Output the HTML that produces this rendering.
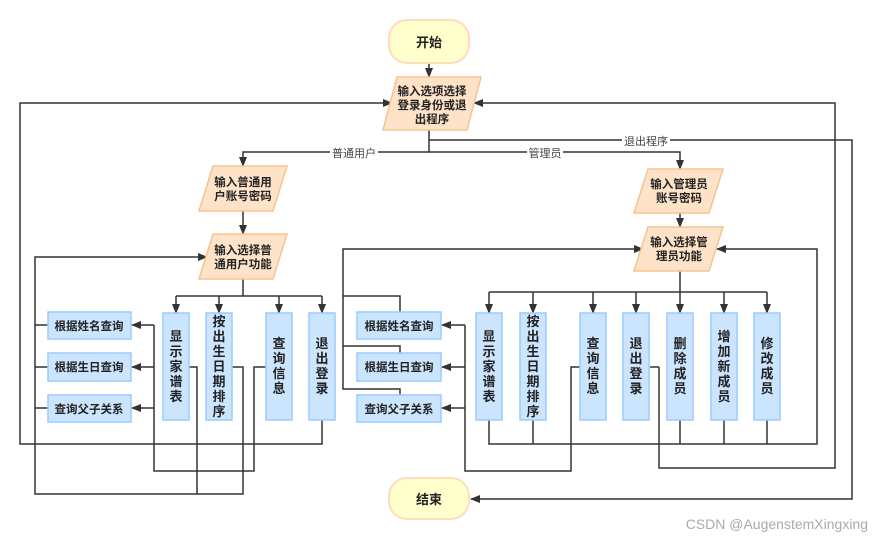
<!DOCTYPE html>
<html><head><meta charset="utf-8"><style>
html,body{margin:0;padding:0;background:#fff;width:872px;height:539px;overflow:hidden}
svg text{font-family:"Liberation Sans","Noto Sans CJK SC",sans-serif}
</style></head><body>
<svg width="872" height="539" viewBox="0 0 872 539" xmlns="http://www.w3.org/2000/svg">
<defs>
<marker id="a" markerWidth="10" markerHeight="10" refX="9" refY="5" orient="auto" markerUnits="userSpaceOnUse">
<path d="M0,1 L10,5 L0,9 Z" fill="#333"/></marker>
</defs>
<g fill="none" stroke="#333" stroke-width="1.5">
<path d="M429,64 V77" marker-end="url(#a)"/>
<path d="M429,130 V152 H243 V166" marker-end="url(#a)"/>
<path d="M429,152 H680 V169" marker-end="url(#a)"/>
<path d="M429,140 H852 V499 H471" marker-end="url(#a)"/>
<path d="M322,420 V444 H20 V103 H392" marker-end="url(#a)"/>
<path d="M659,367 H650 M659,367 V468 H835 V103 H474" marker-end="url(#a)"/>
<path d="M243,211 V234" marker-end="url(#a)"/>
<path d="M243,279 V296"/>
<path d="M176,296 H322"/>
<path d="M176,296 V313" marker-end="url(#a)"/>
<path d="M219,296 V313" marker-end="url(#a)"/>
<path d="M279,296 V313" marker-end="url(#a)"/>
<path d="M322,296 V313" marker-end="url(#a)"/>
<path d="M266,367 H254 V471 H154 V325"/>
<path d="M154,325 H132" marker-end="url(#a)"/>
<path d="M154,367 H132" marker-end="url(#a)"/>
<path d="M154,408 H132" marker-end="url(#a)"/>
<path d="M189,367 H197 V494"/>
<path d="M232,367 H243 V494 H35 V257 H207" marker-end="url(#a)"/>
<path d="M35,325 H48 M35,367 H48 M35,408 H48"/>
<path d="M680,213 V227" marker-end="url(#a)"/>
<path d="M680,271 V292"/>
<path d="M489,292 H767"/>
<path d="M489,292 V313" marker-end="url(#a)"/>
<path d="M533,292 V313" marker-end="url(#a)"/>
<path d="M593,292 V313" marker-end="url(#a)"/>
<path d="M636,292 V313" marker-end="url(#a)"/>
<path d="M680,292 V313" marker-end="url(#a)"/>
<path d="M724,292 V313" marker-end="url(#a)"/>
<path d="M767,292 V313" marker-end="url(#a)"/>
<path d="M489,420 V444 H817 V249 H717" marker-end="url(#a)"/>
<path d="M533,420 V444 M680,420 V444 M724,420 V444 M767,420 V444"/>
<path d="M580,367 H571 V471 H465 V325"/>
<path d="M465,325 H442" marker-end="url(#a)"/>
<path d="M465,367 H442" marker-end="url(#a)"/>
<path d="M465,408 H442" marker-end="url(#a)"/>
<path d="M400,313 V296 H343 V389 H400 V395 M343,346 H400 V353"/>
<path d="M343,296 V249 H643" marker-end="url(#a)"/>
</g>
<g font-size="11" fill="#444" text-anchor="middle">
<rect x="330" y="146" width="48" height="12" fill="#fff"/><text x="354" y="157">普通用户</text>
<rect x="527" y="146" width="36" height="12" fill="#fff"/><text x="545" y="157">管理员</text>
<rect x="622" y="134" width="48" height="12" fill="#fff"/><text x="646" y="145">退出程序</text>
</g>
<g fill="#ffffcc" stroke="#ffdcc0" stroke-width="2">
<rect x="389" y="20" width="80" height="43" rx="18"/>
<rect x="389" y="478" width="80" height="41" rx="18"/>
</g>
<g font-size="13" font-weight="bold" fill="#222" text-anchor="middle">
<text x="429" y="47">开始</text><text x="429" y="504">结束</text>
</g>
<g fill="#ffe3c8" stroke="#f5c38f" stroke-width="1.5">
<path d="M397,77 H481 L467,130 H383 Z"/>
<path d="M213,166 H287 L273,211 H199 Z"/>
<path d="M213,234 H287 L273,279 H199 Z"/>
<path d="M648,169 H723 L709,213 H634 Z"/>
<path d="M648,227 H723 L709,271 H634 Z"/>
</g>
<g font-size="11.5" font-weight="bold" fill="#222" text-anchor="middle">
<text x="432" y="95">输入选项选择</text><text x="432" y="109">登录身份或退</text><text x="432" y="123">出程序</text>
<text x="243" y="186">输入普通用</text><text x="243" y="200">户账号密码</text>
<text x="243" y="254">输入选择普</text><text x="243" y="268">通用户功能</text>
<text x="679" y="188">输入管理员</text><text x="679" y="202">账号密码</text>
<text x="679" y="246">输入选择管</text><text x="679" y="260">理员功能</text>
</g>
<g fill="#cce5ff" stroke="#99ccff" stroke-width="1.5">
<rect x="48" y="312" width="83" height="27"/><rect x="48" y="353" width="83" height="28"/><rect x="48" y="395" width="83" height="27"/>
<rect x="357" y="312" width="84" height="27"/><rect x="357" y="353" width="84" height="28"/><rect x="357" y="395" width="84" height="27"/>
<rect x="163" y="313" width="26" height="107"/><rect x="206" y="313" width="26" height="107"/><rect x="266" y="313" width="26" height="107"/><rect x="309" y="313" width="26" height="107"/>
<rect x="476" y="313" width="26" height="107"/><rect x="520" y="313" width="26" height="107"/><rect x="580" y="313" width="26" height="107"/><rect x="623" y="313" width="26" height="107"/><rect x="667" y="313" width="26" height="107"/><rect x="711" y="313" width="26" height="107"/><rect x="754" y="313" width="26" height="107"/>
</g>
<g font-size="11.5" font-weight="bold" fill="#222" text-anchor="middle">
<text x="89" y="330">根据姓名查询</text><text x="89" y="371">根据生日查询</text><text x="89" y="413">查询父子关系</text>
<text x="399" y="330">根据姓名查询</text><text x="399" y="371">根据生日查询</text><text x="399" y="413">查询父子关系</text>
</g>
<g font-size="13" font-weight="bold" fill="#222" text-anchor="middle">
<text x="176" y="341">显</text><text x="176" y="356">示</text><text x="176" y="371">家</text><text x="176" y="386">谱</text><text x="176" y="401">表</text>
<text x="219" y="326">按</text><text x="219" y="341">出</text><text x="219" y="356">生</text><text x="219" y="371">日</text><text x="219" y="386">期</text><text x="219" y="401">排</text><text x="219" y="416">序</text>
<text x="279" y="348">查</text><text x="279" y="363">询</text><text x="279" y="378">信</text><text x="279" y="393">息</text>
<text x="322" y="348">退</text><text x="322" y="363">出</text><text x="322" y="378">登</text><text x="322" y="393">录</text>
<text x="489" y="341">显</text><text x="489" y="356">示</text><text x="489" y="371">家</text><text x="489" y="386">谱</text><text x="489" y="401">表</text>
<text x="533" y="326">按</text><text x="533" y="341">出</text><text x="533" y="356">生</text><text x="533" y="371">日</text><text x="533" y="386">期</text><text x="533" y="401">排</text><text x="533" y="416">序</text>
<text x="593" y="348">查</text><text x="593" y="363">询</text><text x="593" y="378">信</text><text x="593" y="393">息</text>
<text x="636" y="348">退</text><text x="636" y="363">出</text><text x="636" y="378">登</text><text x="636" y="393">录</text>
<text x="680" y="348">删</text><text x="680" y="363">除</text><text x="680" y="378">成</text><text x="680" y="393">员</text>
<text x="724" y="341">增</text><text x="724" y="356">加</text><text x="724" y="371">新</text><text x="724" y="386">成</text><text x="724" y="401">员</text>
<text x="767" y="348">修</text><text x="767" y="363">改</text><text x="767" y="378">成</text><text x="767" y="393">员</text>
</g>
<text x="868" y="529" font-size="14" fill="#aaa" text-anchor="end">CSDN @AugenstemXingxing</text>
</svg>
</body></html>
